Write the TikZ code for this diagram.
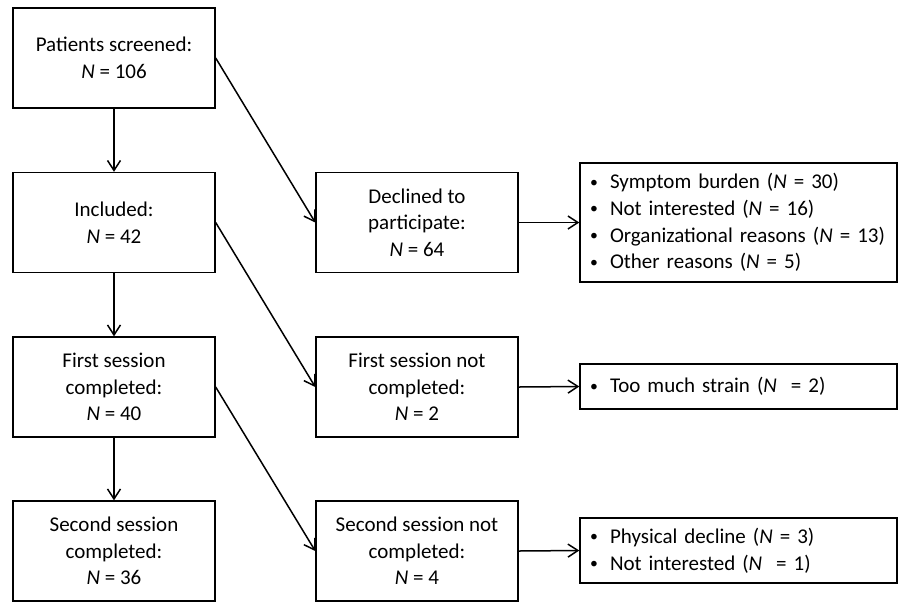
\documentclass[tikz,border=0pt]{standalone}
\usepackage{fontspec}
\setmainfont{Carlito}
\usetikzlibrary{arrows.meta}

\tikzset{
  box/.style={draw,line width=0.7pt,minimum width=101pt,minimum height=50pt,inner sep=0pt,align=center},
  listbox/.style={draw,line width=0.7pt,inner xsep=5pt,inner ysep=0pt,text width=148.5pt,align=left},
  arr/.style={line width=0.75pt,-{Straight Barb[length=5pt,width=6.5pt]}},
}
\newcommand{\itm}{\makebox[10pt][l]{\raisebox{0.15ex}{\scalebox{0.75}{\textbullet}}}}

\begin{document}
\begin{tikzpicture}
    [
      x=0.5pt, y=-0.5pt,
      font=\fontsize{10.5}{13.3}\selectfont,
    ]
    \useasboundingbox (0,0) rectangle (901,602);
    %
    % main column
    \node [box] (scr) at (114, 58)    {Patients screened:\\\textit{N} = 106};
    \node [box] (inc) at (114, 222.5) {Included:\\\textit{N} = 42};
    \node [box] (fir) at (114, 387)   {First session\\completed:\\\textit{N} = 40};
    \node [box] (sec) at (114, 551)   {Second session\\completed:\\\textit{N} = 36};

    % drop-outs
    \node [box] (dec) at (417, 222.5) {Declined to\\participate:\\\textit{N} = 64};
    \node [box] (fnc) at (417, 387)   {First session not\\completed:\\\textit{N} = 2};
    \node [box] (snc) at (417, 551)   {Second session not\\completed:\\\textit{N} = 4};

    % reasons
    \node [listbox,minimum height=59.5pt] (rdec) at (738.5, 222.5)
      {\itm Symptom burden (\textit{N} = 30)\\
       \itm Not interested (\textit{N} = 16)\\
       \itm Organizational reasons (\textit{N} = 13)\\
       \itm Other reasons (\textit{N} = 5)};
    \node [listbox,minimum height=22.5pt] (rfnc) at (738.5, 386.5)
      {\itm Too much strain (\textit{N}\ \ = 2)};
    \node [listbox,minimum height=32.5pt] (rsnc) at (738.5, 550.5)
      {\itm Physical decline (\textit{N} = 3)\\
       \itm Not interested (\textit{N}\ \ = 1)};

    % arrows
    \foreach \a/\b in {scr/inc, inc/fir, fir/sec} {
      \draw [arr] (\a.south) -- (\b.north);
    }
    \foreach \a/\b in {scr/dec, inc/fnc, fir/snc, dec/rdec, fnc/rfnc, snc/rsnc} {
      \draw [arr] (\a.east) -- (\b.west);
    }
  \end{tikzpicture}
\end{document}
